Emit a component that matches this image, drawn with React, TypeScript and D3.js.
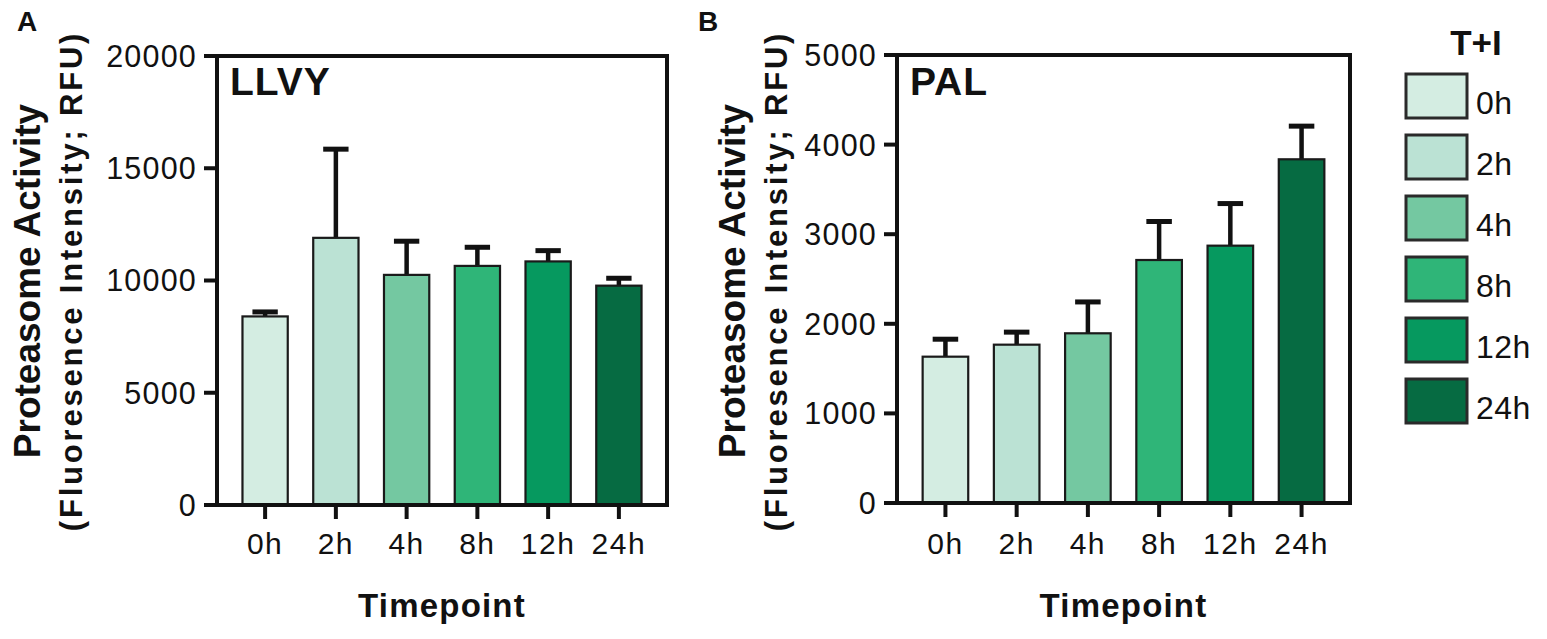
import { useMemo } from 'react';
import * as d3 from 'd3';

const timepoints = ['0h', '2h', '4h', '8h', '12h', '24h'];
const barColors = ['#d4ede2', '#bbe2d4', '#74c8a1', '#2fb578', '#06995f', '#066b42'];

const llvyMean = [8400, 11900, 10250, 10650, 10850, 9770];
const llvyErr = [200, 3950, 1500, 830, 480, 330];
const llvyTicks = [0, 5000, 10000, 15000, 20000];

const palMean = [1633, 1767, 1894, 2712, 2872, 3836];
const palErr = [195, 140, 350, 430, 470, 370];
const palTicks = [0, 1000, 2000, 3000, 4000, 5000];

const FONT = '"Liberation Sans", Arial, Helvetica, sans-serif';
const INK = '#111';

type PanelProps = {
  letter: string;
  title: string;
  means: number[];
  errs: number[];
  ticks: number[];
  left: number;
  right: number;
  top: number;
  bottom: number;
  letterX: number;
  labelX: number;
};

const Panel: React.FC<PanelProps> = ({
  letter,
  title,
  means,
  errs,
  ticks,
  left,
  right,
  top,
  bottom,
  letterX,
  labelX,
}) => {
  const x = useMemo(
    () => d3.scaleBand<string>().domain(timepoints).range([left, right]).paddingInner(0.36).paddingOuter(0.36),
    [left, right],
  );
  const y = useMemo(
    () => d3.scaleLinear().domain([0, ticks[ticks.length - 1]]).range([bottom, top]),
    [ticks, top, bottom],
  );
  const bw = x.bandwidth();
  const capW = bw * 0.56;
  const midY = 281;

  return (
    <g fontFamily={FONT} fill={INK}>
      <text x={letterX} y={31} fontSize={28} fontWeight="bold">
        {letter}
      </text>

      {/* y axis title, two lines */}
      <text
        transform={`translate(${labelX},${midY}) rotate(-90)`}
        textAnchor="middle"
        fontSize={37}
        fontWeight="bold"
      >
        Proteasome Activity
      </text>
      <text
        transform={`translate(${labelX + 42},${midY}) rotate(-90)`}
        textAnchor="middle"
        fontSize={31}
        fontWeight="bold"
        letterSpacing={2.8}
      >
        (Fluoresence Intensity; RFU)
      </text>

      {/* error bars (upper only) */}
      {means.map((m, i) => {
        const cx = x(timepoints[i])! + bw / 2;
        return (
          <g key={`e${i}`} stroke={INK}>
            <line x1={cx} x2={cx} y1={y(m)} y2={y(m + errs[i])} strokeWidth={4.5} />
            <line x1={cx - capW / 2} x2={cx + capW / 2} y1={y(m + errs[i])} y2={y(m + errs[i])} strokeWidth={5} />
          </g>
        );
      })}

      {/* bars */}
      {means.map((m, i) => (
        <rect
          key={`b${i}`}
          x={x(timepoints[i])}
          y={y(m)}
          width={bw}
          height={y(0) - y(m)}
          fill={barColors[i]}
          stroke="#1a1a1a"
          strokeWidth={2.2}
        />
      ))}

      {/* frame */}
      <rect x={left} y={top} width={right - left} height={bottom - top} fill="none" stroke={INK} strokeWidth={4} />

      {/* y ticks */}
      {ticks.map((t) => (
        <g key={`yt${t}`}>
          <line x1={left - 13} x2={left} y1={y(t)} y2={y(t)} stroke={INK} strokeWidth={4} />
          <text x={left - 20} y={y(t)} dy="0.36em" textAnchor="end" fontSize={30.5} letterSpacing={1.2}>
            {d3.format('d')(t)}
          </text>
        </g>
      ))}

      {/* x ticks */}
      {timepoints.map((tp) => {
        const cx = x(tp)! + bw / 2;
        return (
          <g key={`xt${tp}`}>
            <line x1={cx} x2={cx} y1={bottom} y2={bottom + 14} stroke={INK} strokeWidth={4} />
            <text x={cx} y={554} textAnchor="middle" fontSize={30} letterSpacing={1.5}>
              {tp}
            </text>
          </g>
        );
      })}

      <text x={(left + right) / 2} y={617} textAnchor="middle" fontSize={33} fontWeight="bold" letterSpacing={1.2}>
        Timepoint
      </text>

      <text x={left + 13} y={95} fontSize={39} fontWeight="bold" letterSpacing={1}>
        {title}
      </text>
    </g>
  );
};

const Legend: React.FC = () => {
  const rows = d3.scaleBand<string>().domain(timepoints).range([74, 74 + 61 * 6]).paddingInner(0);
  return (
    <g fontFamily={FONT} fill={INK}>
      <text x={1476} y={55} textAnchor="middle" fontSize={35} fontWeight="bold">
        T+I
      </text>
      {timepoints.map((tp, i) => (
        <g key={tp}>
          <rect x={1406} y={rows(tp)} width={61} height={44} fill={barColors[i]} stroke="#2a2a2a" strokeWidth={3} />
          <text x={1476} y={rows(tp)! + 40} fontSize={32} letterSpacing={0.5}>
            {tp}
          </text>
        </g>
      ))}
    </g>
  );
};

export default function App() {
  return (
    <svg
      width={1547}
      height={639}
      style={{ position: 'absolute', left: 0, top: 0, background: '#fff' }}
    >
      <rect width={1547} height={639} fill="#fff" />
      <Panel
        letter="A"
        title="LLVY"
        means={llvyMean}
        errs={llvyErr}
        ticks={llvyTicks}
        left={217}
        right={667}
        top={56}
        bottom={505}
        letterX={17}
        labelX={40}
      />
      <Panel
        letter="B"
        title="PAL"
        means={palMean}
        errs={palErr}
        ticks={palTicks}
        left={897}
        right={1350}
        top={55}
        bottom={503}
        letterX={698}
        labelX={745}
      />
      <Legend />
    </svg>
  );
}
